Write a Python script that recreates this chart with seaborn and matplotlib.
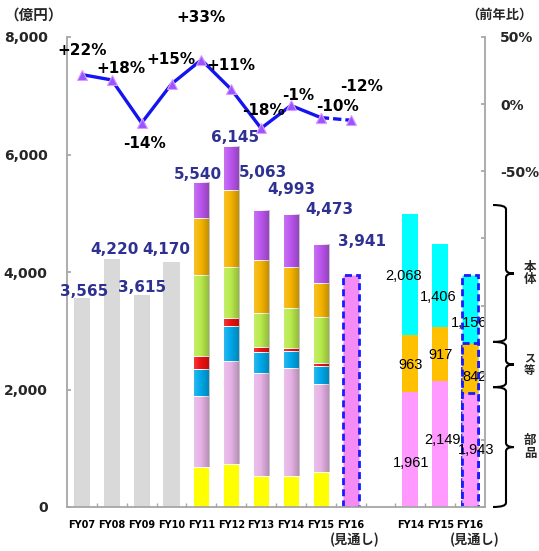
import numpy as np
import pandas as pd
import matplotlib
matplotlib.use("Agg")
import matplotlib.pyplot as plt
import matplotlib.transforms as mtransforms
from matplotlib.path import Path
from matplotlib.patches import PathPatch
import seaborn as sns

# ---------------- data ----------------
years = ['FY07', 'FY08', 'FY09', 'FY10', 'FY11', 'FY12', 'FY13', 'FY14', 'FY15', 'FY16']
right_years = ['FY14', 'FY15', 'FY16']
totals = [3565, 4220, 3615, 4170, 5540, 6145, 5063, 4993, 4473, 3941]
yoy = [22, 18, -14, 15, 33, 11, -18, -1, -10, -12]
yoy_labels = ['+22%', '+18%', '-14%', '+15%', '+33%', '+11%', '-18%', '-1%', '-10%', '-12%']

gray_vals = [3565, 4220, 3615, 4170]            # FY07-FY10
# FY11-FY15 stacked segments (bottom -> top)
seg_yellow = [680, 730, 535, 535, 600]
seg_pink = [1210, 1755, 1745, 1825, 1500]
seg_blue = [465, 600, 360, 295, 305]
seg_red = [220, 125, 75, 45, 50]
seg_green = [1375, 880, 580, 685, 785]
seg_orange = [970, 1305, 905, 695, 565]
seg_purple = [620, 750, 863, 913, 668]
forecast_fy16 = [3941]

# right-hand breakdown FY14-FY16
parts_vals = [1961, 2149, 1943]    # 部品
spare_vals = [963, 917, 842]       # ス..等
body_vals = [2068, 1406, 1156]     # 本体
brace_bounds = [5140, 2810, 2040, 0]
brace_labels = ['本\n体', 'ス\n等', '部\n品']

# ---------------- style ----------------
sns.set_theme(style='white')
CJK = 'Noto Sans CJK JP'
plt.rcParams['font.family'] = ['DejaVu Sans', CJK]

W_PX, H_PX = 539, 551
fig = plt.figure(figsize=(W_PX / 100, H_PX / 100), dpi=100)
ax = fig.add_axes([67 / W_PX, 44 / H_PX, 418 / W_PX, 470 / H_PX])

BW = 0.536
SPINE = '#a6a6a6'
LINE = '#1414f0'
LABEL_BLUE = '#2e3192'
DASH_EDGE = '#1a1aff'

pos_left = np.arange(len(years))
pos_right = np.arange(len(years) + 1, len(years) + 1 + len(right_years))


def add_gradient(a, patch, z=2):
    x0, y0 = patch.get_x(), patch.get_y()
    w, h = patch.get_width(), patch.get_height()
    t = np.linspace(0, 1, 64)
    rgba = np.zeros((1, 64, 4))
    white = t < 0.45
    rgba[0, white, :3] = 1.0
    rgba[0, white, 3] = (0.45 - t[white]) * 0.45
    rgba[0, ~white, 3] = (t[~white] - 0.45) * 0.42
    im = a.imshow(rgba, extent=[x0, x0 + w, y0, y0 + h], aspect='auto',
                  zorder=z, interpolation='bilinear')
    im.set_clip_path(patch)


def bars(a, xs, vs, color, **kw):
    df = pd.DataFrame({'x': xs, 'v': vs})
    n0 = len(a.patches)
    sns.barplot(data=df, x='x', y='v', native_scale=True, width=BW, color=color,
                saturation=1, errorbar=None, ax=a, zorder=2, **kw)
    return a.patches[n0:]


# gray bars FY07-FY10
bars(ax, pos_left[:4], gray_vals, '#d9d9d9', linewidth=0)

# stacked FY11-FY15 (overdraw cumulative from top)
layers = [seg_yellow, seg_pink, seg_blue, seg_red, seg_green, seg_orange, seg_purple]
layer_colors = ['#ffff00', '#e6b3e6', '#00a8ea', '#ee1010', '#b8ea4c', '#f5b400', '#bb55ee']
cum = np.cumsum(np.array(layers), axis=0)
for k in reversed(range(len(layers))):
    new = bars(ax, pos_left[4:9], cum[k], layer_colors[k], edgecolor='white', linewidth=0.7)
    if k != 0:
        for p in new:
            add_gradient(ax, p)

# FY16 forecast bar
bars(ax, pos_left[9:10], forecast_fy16, '#f58cf5', edgecolor=DASH_EDGE,
     linewidth=2, linestyle=(0, (2.5, 1.5)))

# right-hand breakdown (overdraw)
right_cum = np.cumsum(np.array([parts_vals, spare_vals, body_vals]), axis=0)
right_colors = ['#ff99ff', '#ffc000', '#00ffff']
for k in reversed(range(3)):
    bars(ax, pos_right[:2], right_cum[k][:2], right_colors[k], linewidth=0)
    bars(ax, pos_right[2:], right_cum[k][2:], right_colors[k], edgecolor=DASH_EDGE,
         linewidth=2, linestyle=(0, (2.5, 1.5)))

# total value labels (offsets in pixels)
tot_dx = [2, 3, 0, -5, -3, 4, 2, 0, 9, 11]
tot_dy = [6.5, 10, 7, 13, 7, 8, 37, 24, 35, 34]
for i, v in enumerate(totals):
    ax.annotate(f'{v:,}', (pos_left[i], v), xytext=(tot_dx[i], tot_dy[i]),
                textcoords='offset pixels', ha='center', va='center',
                fontsize=11, fontweight='bold', color=LABEL_BLUE, zorder=5)

# right-hand segment labels
seg_sets = [parts_vals, spare_vals, body_vals]
seg_dx = [[1, 2, 6], [0, 0, 4], [-7, -2, -1]]
seg_dy = [[-14, 4, 0], [-1.5, -1, -9], [-2, -11, -14]]
for k in range(3):
    for j in range(3):
        mid = right_cum[k][j] - seg_sets[k][j] / 2
        ax.annotate(f'{seg_sets[k][j]:,}', (pos_right[j], mid), xytext=(seg_dx[k][j], seg_dy[k][j]),
                    textcoords='offset pixels', ha='center', va='center', fontsize=10.5,
                    family='Liberation Sans', color='black', zorder=5)

# axes cosmetics
ax.set_xlim(-0.5, 13.5)
ax.set_ylim(0, 8000)
ax.set_xlabel('')
ax.set_ylabel('')
yt = [0, 2000, 4000, 6000, 8000]
ax.set_yticks(yt)
ax.set_yticklabels([f'{v:,}' for v in yt], fontweight='bold', fontsize=10)
all_pos = list(pos_left) + list(pos_right)
ax.set_xticks(all_pos)
ax.set_xticklabels(years + right_years, fontweight='bold', fontsize=7)
ax.set_xticks(np.arange(0, 13) + 0.5, minor=True)
ax.tick_params(axis='x', which='major', length=0, pad=9, colors='black')
ax.tick_params(axis='x', which='minor', direction='in', length=3, color=SPINE, bottom=True)
ax.tick_params(axis='y', direction='in', length=3, color=SPINE, pad=14, left=True)
for s in ['top', 'right']:
    ax.spines[s].set_visible(False)
for s in ['left', 'bottom']:
    ax.spines[s].set_color(SPINE)
    ax.spines[s].set_linewidth(1.3)
ax.grid(False)

bx = mtransforms.blended_transform_factory(ax.transData, ax.transAxes)
for p in [pos_left[9], pos_right[2]]:
    ax.text(p + 0.15, -0.07, '(見通し)', transform=bx, ha='center', va='center',
            fontsize=9.5, fontweight='bold', family=[CJK])

# ---------------- growth line ----------------
ax2 = ax.twinx()
ax2.set_ylim(-300, 50)
sns.lineplot(x=pos_left[:9], y=yoy[:9], ax=ax2, color=LINE, linewidth=2.4,
             marker='^', markersize=7, markerfacecolor='#9955ff',
             markeredgecolor='#dd99ff', markeredgewidth=0.8, zorder=4)
sns.lineplot(x=pos_left[8:10], y=yoy[8:10], ax=ax2, color=LINE, linewidth=2.4,
             linestyle=(0, (2.5, 1.2)), marker='^', markersize=7,
             markerfacecolor='#9955ff', markeredgecolor='#dd99ff',
             markeredgewidth=0.8, zorder=4)
lab_dx = [0, 9, 3, -1, 0, 0, 2, 7, 17, 11]
lab_dy = [24, 11, -21, 25, 42, 24, 18, 10, 11, 34]
for i, v in enumerate(yoy):
    ax2.annotate(yoy_labels[i], (pos_left[i], v), xytext=(lab_dx[i], lab_dy[i]),
                 textcoords='offset pixels', ha='center', va='center',
                 fontsize=11, fontweight='bold', color='black', zorder=6)
rt = list(range(-300, 51, 50))
ax2.set_yticks(rt)
ax2.set_yticklabels([f'{v}%' if v >= -50 else '' for v in rt], fontweight='bold', fontsize=10)
ax2.tick_params(axis='y', direction='in', length=3, color=SPINE, pad=11, right=True)
ax2.set_ylabel('')
for s in ['top', 'left', 'bottom']:
    ax2.spines[s].set_visible(False)
ax2.spines['right'].set_color(SPINE)
ax2.spines['right'].set_linewidth(1.3)
ax2.grid(False)
ax2.set_xlim(-0.5, 13.5)

# headers
fig.text(34 / W_PX, 1 - 15 / H_PX, '（億円）', ha='center', va='center',
         fontsize=10.5, fontweight='bold', family=[CJK])
fig.text(499 / W_PX, 1 - 15 / H_PX, '（前年比）', ha='center', va='center',
         fontsize=9.5, fontweight='bold', family=[CJK])

# ---------------- braces ----------------
btr = mtransforms.blended_transform_factory(fig.transFigure, ax.transData)
x_end, x_vert, x_tip = 493 / W_PX, 506 / W_PX, 514 / W_PX
r = 70
for i in range(3):
    y0, y1 = brace_bounds[i], brace_bounds[i + 1]
    ym = (y0 + y1) / 2
    verts = [(x_end, y0), (x_vert, y0), (x_vert, y0 - r),
             (x_vert, ym + r), (x_vert, ym), (x_tip, ym),
             (x_vert, ym), (x_vert, ym - r),
             (x_vert, y1 + r), (x_vert, y1), (x_end, y1)]
    codes = [Path.MOVETO, Path.CURVE3, Path.CURVE3,
             Path.LINETO, Path.CURVE3, Path.CURVE3,
             Path.CURVE3, Path.CURVE3,
             Path.LINETO, Path.CURVE3, Path.CURVE3]
    pp = PathPatch(Path(verts, codes), transform=btr, fill=False, edgecolor='black',
                   linewidth=1.5, clip_on=False)
    fig.add_artist(pp)
    fs = 9 if i != 1 else 8
    fig.text(524 / W_PX, ym, brace_labels[i], transform=btr, ha='left', va='center',
             fontsize=fs, fontweight='bold', family=[CJK], linespacing=0.95)

fig.savefig('out.png', dpi=100)
